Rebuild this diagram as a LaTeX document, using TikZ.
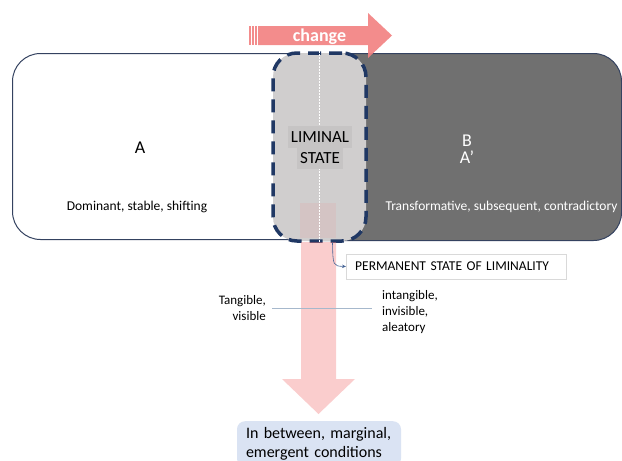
\documentclass[tikz,border=0pt]{standalone}
\usepackage{fontspec}
\setmainfont{Carlito}
\usetikzlibrary{positioning,arrows.meta}

\definecolor{navy}{RGB}{32,56,100}
\definecolor{edgeblue}{RGB}{52,66,96}
\definecolor{darkstate}{RGB}{112,112,112}
\definecolor{liminalgray}{RGB}{208,206,206}
\definecolor{labelgray}{RGB}{198,196,196}
\definecolor{changepink}{RGB}{242,130,130}
\definecolor{paleblue}{RGB}{218,227,243}
\definecolor{lineblue}{RGB}{166,184,204}
\definecolor{connblue}{RGB}{70,100,150}

\begin{document}
\begin{tikzpicture}[x=1pt,y=-1pt,inner sep=0pt,
    statebox/.style={draw=edgeblue,line width=1pt,rounded corners=28pt,anchor=north west},
    liminalbox/.style={draw=navy,fill=liminalgray,line width=3.5pt,dash pattern=on 13pt off 8pt,rounded corners=24pt},
    bigtxt/.style={font=\fontsize{18}{21}\selectfont},
    limtxt/.style={font=\fontsize{17}{20}\selectfont,fill=labelgray,inner xsep=3pt,text height=11.5pt,text depth=0.5pt,inner ysep=5pt},
    desctxt/.style={font=\fontsize{13.5}{16}\selectfont},
    sidetxt/.style={font=\fontsize{13}{16}\selectfont},
    permbox/.style={draw=black!15,fill=white,anchor=west,minimum height=25pt,inner xsep=9pt,text width=202pt,align=left,font=\fontsize{13.5}{16}\selectfont},
    condbox/.style={fill=paleblue,rounded corners=8pt,anchor=north,inner xsep=9pt,inner ysep=6pt,text width=146pt,align=left,font=\fontsize{16}{19.5}\selectfont}]
  \useasboundingbox (0,0) rectangle (622,461);

  \node[statebox,fill=white,minimum width=348pt,minimum height=186pt] (stA) at (12,53) {};
  \node[statebox,fill=darkstate,minimum width=331pt,minimum height=187pt] (stB) at (290,53) {};
  \node[liminalbox,minimum width=93pt,minimum height=188pt] (lim) at (319.5,147) {};
  \fill[changepink,opacity=0.12] (300,203) rectangle (336,238);
  \draw[white,line width=1pt,dash pattern=on 1.5pt off 1.5pt] (lim.north) -- (lim.south);

  \node[limtxt] (limT1) at (320,136.5) {LIMINAL};
  \node[limtxt] (limT2) at (320,157.5) {STATE};

  \node[bigtxt] (labA) at (140,148) {A};
  \node[desctxt] (descA) at (137,207) {Dominant, stable, shifting};
  \node[bigtxt,white] (labB) at (467,141) {B};
  \node[bigtxt,white] (labAp) at (labB) [below=10pt] {A'};
  \node[desctxt,white] (descB) at (501.5,207) {Transformative, subsequent, contradictory};

  \fill[changepink,opacity=0.92] (258,26) -- (368,26) -- (368,13) -- (392,35.5) -- (368,58) -- (368,45) -- (258,45) -- cycle;
  \foreach \sx in {249,252,255}
    \fill[changepink,opacity=0.92] (\sx,26) rectangle ++(1.5,19);
  \node[font=\bfseries\fontsize{18}{20}\selectfont,white] (chg) at (319.5,37) {change};

  \fill[changepink,opacity=0.4] (301,242) -- (336,242) -- (336,379) -- (355,379) -- (318.5,414) -- (282,379) -- (301,379) -- cycle;

  \node[sidetxt,align=right,anchor=east] (tang) at (266,308) {Tangible,\\visible};
  \node[sidetxt,align=left,anchor=west] (intang) at (382,312) {intangible,\\invisible,\\aleatory};
  \draw[lineblue,line width=0.8pt] ([xshift=6pt]tang.east) -- ([xshift=-10pt]intang.west |- tang.east);

  \node[permbox] (perm) at (346,266.5) {PERMANENT STATE OF LIMINALITY};
  \draw[connblue,line width=0.6pt,-{Stealth[length=4pt,width=3.5pt]}] ([xshift=13pt]lim.south) .. controls (333,266) .. (perm.west);

  \node[condbox] (cond) at (319,421) {In between, marginal,\\emergent conditions};
\end{tikzpicture}
\end{document}
